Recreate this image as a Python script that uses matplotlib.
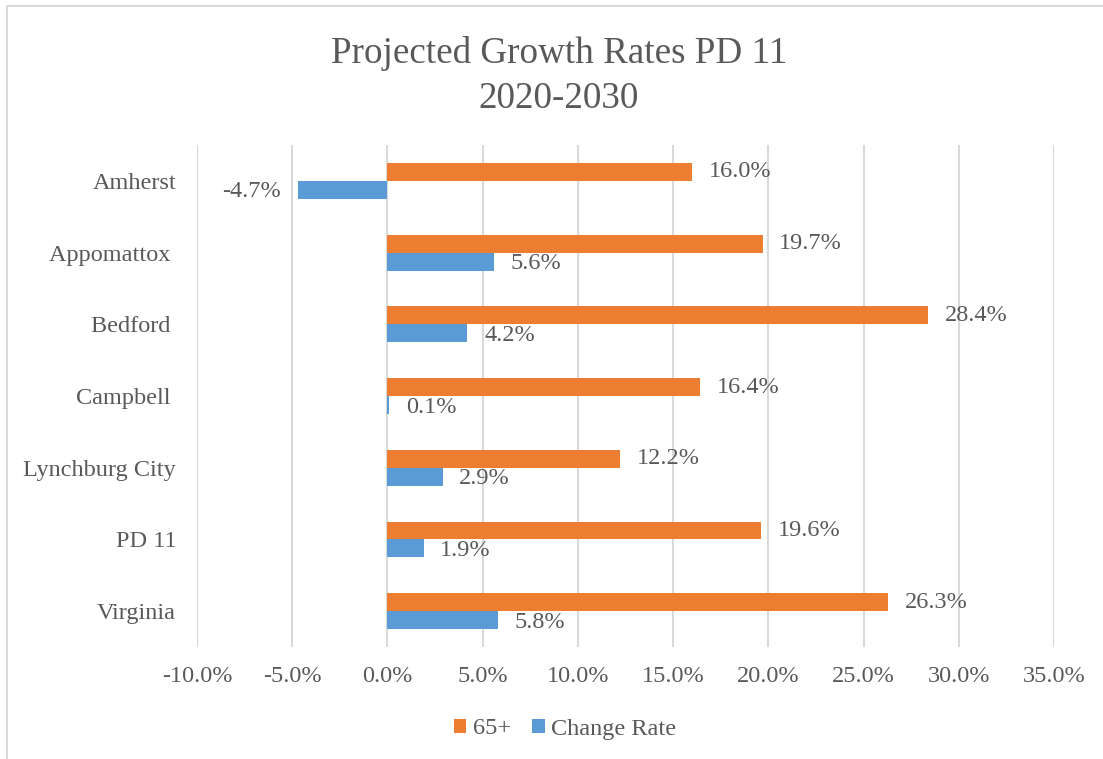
import matplotlib
matplotlib.use("Agg")
import matplotlib.pyplot as plt
from matplotlib.patches import Rectangle
from matplotlib.ticker import FuncFormatter
import numpy as np

plt.rcParams["font.family"] = ["Liberation Serif", "DejaVu Serif"]

CATEGORIES = ["Amherst", "Appomattox ", "Bedford ", "Campbell ",
              "Lynchburg City", "PD 11", "Virginia"]
SENIOR = [16.0, 19.7, 28.4, 16.4, 12.2, 19.6, 26.3]
CHANGE = [-4.7, 5.6, 4.2, 0.1, 2.9, 1.9, 5.8]
XTICKS = [-10, -5, 0, 5, 10, 15, 20, 25, 30, 35]

ORANGE = "#ED7D31"
BLUE = "#5B9BD5"
TEXT = "#595959"
GRID = "#D9D9D9"
FS = 17.5

W, H = 1103, 759
fig = plt.figure(figsize=(W / 100, H / 100), dpi=100)

# chart border (cut off at right/bottom like the screenshot)
fig.patches.append(Rectangle((7 / W, -0.01), 1.05, 1 - 6 / H + 0.01,
                             transform=fig.transFigure, fill=False,
                             edgecolor=GRID, linewidth=1.5))

ax = fig.add_axes([197 / W, 1 - 647 / H, (1054 - 197) / W, (647 - 145) / H])

y = np.arange(len(CATEGORIES))
h = 0.25
b1 = ax.barh(y - h / 2, SENIOR, height=h, color=ORANGE, label="65+", zorder=3)
b2 = ax.barh(y + h / 2, CHANGE, height=h, color=BLUE, label="Change Rate", zorder=3)

for bars, vals, dy in ((b1, SENIOR, 0), (b2, CHANGE, -1.5)):
    for rect, v in zip(bars, vals):
        yc = rect.get_y() + rect.get_height() / 2
        off = 12 if v >= 0 else -12
        ax.annotate(f"{v:.1f}%", (v, yc), xytext=(off, dy), textcoords="offset points",
                    ha="left" if v >= 0 else "right", va="center",
                    fontsize=FS, color=TEXT)

ax.set_xlim(-10, 35)
ax.set_ylim(len(CATEGORIES) - 0.5, -0.5)
ax.set_xticks(XTICKS)
ax.xaxis.set_major_formatter(FuncFormatter(lambda v, p: f"{v:.1f}%"))
ax.set_yticks(y)
ax.set_yticklabels(CATEGORIES)
ax.tick_params(axis="x", length=0, pad=14, labelsize=FS, labelcolor=TEXT)
ax.tick_params(axis="y", length=0, pad=15, labelsize=FS, labelcolor=TEXT)
ax.grid(axis="x", color=GRID, linewidth=1.5, zorder=0)
for s in ax.spines.values():
    s.set_visible(False)

fig.text(559 / W, 1 - 76 / H, "Projected Growth Rates PD 11\n2020-2030",
         ha="center", va="center", fontsize=26.7, color=TEXT, linespacing=1.42)

fig.legend(handles=[b1, b2], loc="center", bbox_to_anchor=(565 / W, 1 - 729 / H),
           ncol=2, frameon=False, fontsize=FS, labelcolor=TEXT,
           handlelength=0.5, handleheight=0.5, handletextpad=0.25,
           columnspacing=0.9)

fig.savefig("out.png", dpi=100)
